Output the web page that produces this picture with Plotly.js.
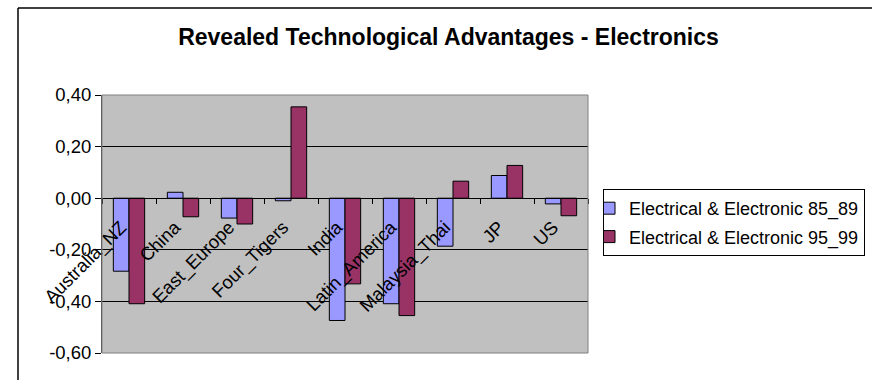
<!DOCTYPE html>
<html>
<head>
<meta charset="utf-8">
<script src="https://cdn.plot.ly/plotly-3.0.1.min.js"></script>
<style>
html,body{margin:0;padding:0;background:#fff;}
#chart{width:872px;height:380px;}
</style>
</head>
<body>
<div id="chart"></div>
<script>
var categories = ['Australia_NZ','China','East_Europe','Four_Tigers','India','Latin_America','Malaysia_Thai','JP','US'];
var series1Name = 'Electrical & Electronic 85_89';
var series2Name = 'Electrical & Electronic 95_99';
var series1 = [-0.283, 0.023, -0.077, -0.010, -0.474, -0.409, -0.186, 0.088, -0.022];
var series2 = [-0.409, -0.072, -0.100, 0.354, -0.332, -0.455, 0.066, 0.127, -0.068];
var yTickVals = [-0.6, -0.4, -0.2, 0, 0.2, 0.4];
var yTickText = ['-0,60', '-0,40', '-0,20', '0,00', '0,20', '0,40'];
var chartTitle = 'Revealed Technological Advantages - Electronics';

var W = 872, H = 380;
var L = 102, R = 588, T = 95, B = 353;
function px(x){ return (x - L) / (R - L); }
function py(y){ return (B - y) / (B - T); }

var font = 'Liberation Sans, Arial, sans-serif';

var traces = [
  {type:'bar', name: series1Name, x: categories, y: series1, legendgroup:'a',
   marker:{color:'#9999FF', line:{color:'#000000', width:1}}},
  {type:'bar', name: series2Name, x: categories, y: series2, legendgroup:'b',
   marker:{color:'#993366', line:{color:'#000000', width:1}}}
];

var layout = {
  width: W, height: H,
  margin: {l: L, r: W - R, t: T, b: H - B, pad: 0, autoexpand: false},
  paper_bgcolor: '#ffffff',
  plot_bgcolor: '#C0C0C0',
  font: {family: font, color: '#000000', size: 18},
  barmode: 'group',
  bargap: 0.42,
  bargroupgap: 0,
  showlegend: true,
  title: {
    text: '<b>' + chartTitle + '</b>',
    font: {family: font, size: 23, color: '#000000'},
    xref: 'container', yref: 'container',
    x: 448.5 / W, y: 1 - 36.5 / H,
    xanchor: 'center', yanchor: 'middle'
  },
  xaxis: {
    type: 'category',
    anchor: 'free',
    position: 0.6,
    automargin: false,
    showline: true, linecolor: '#000000', linewidth: 1,
    ticks: 'outside', ticklen: 5, tickcolor: '#000000', tickwidth: 1,
    tickson: 'boundaries',
    tickangle: -45,
    ticklabelshift: -8,
    ticklabelstandoff: 10,
    tickfont: {family: font, size: 18.5, color: '#000000'},
    showgrid: false, zeroline: false,
    fixedrange: true
  },
  yaxis: {
    range: [-0.6, 0.4],
    automargin: false,
    tickvals: yTickVals, ticktext: yTickText,
    ticks: 'outside', ticklen: 6, tickcolor: '#000000', tickwidth: 1,
    tickfont: {family: font, size: 18.5, color: '#000000'},
    showgrid: true, gridcolor: '#000000', gridwidth: 1,
    zeroline: true, zerolinecolor: '#000000', zerolinewidth: 1,
    showline: true, linecolor: '#404040', linewidth: 1,
    fixedrange: true
  },
  legend: {
    x: px(603), y: py(189), xanchor: 'left', yanchor: 'top',
    xref: 'paper', yref: 'paper',
    bgcolor: '#ffffff', bordercolor: '#000000', borderwidth: 1,
    font: {family: font, size: 18, color: '#000000'},
    traceorder: 'grouped', tracegroupgap: 2,
    indentation: -15,
    itemwidth: 30
  },
  shapes: [
    {type:'rect', xref:'paper', yref:'paper', x0:0, x1:1, y0:0, y1:1,
     line:{color:'#808080', width:1}, layer:'above'},
    {type:'line', xref:'paper', yref:'paper', x0:px(18), x1:px(900), y0:py(8), y1:py(8),
     line:{color:'#000000', width:1.5}, layer:'below'},
    {type:'line', xref:'paper', yref:'paper', x0:px(18), x1:px(18), y0:py(8), y1:py(400),
     line:{color:'#000000', width:1.5}, layer:'below'}
  ]
};

Plotly.newPlot('chart', traces, layout, {displayModeBar: false, staticPlot: true});
</script>
</body>
</html>
